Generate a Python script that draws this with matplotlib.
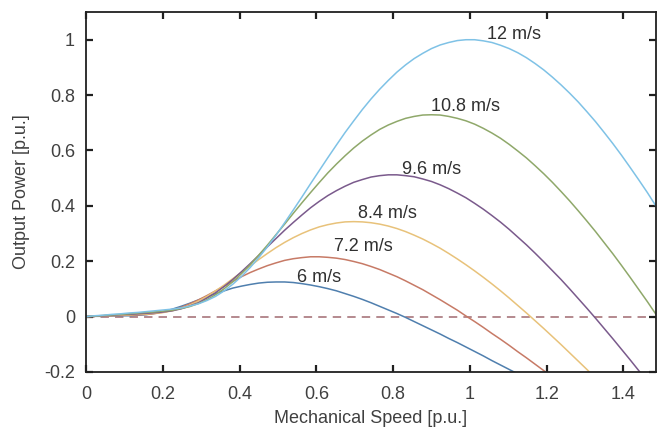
import matplotlib
matplotlib.use("Agg")
import matplotlib.pyplot as plt

# Mechanical speed [p.u.]
speed = [0.0000, 0.0225, 0.0450, 0.0675, 0.0900, 0.1125, 0.1350, 0.1575, 0.1800, 0.2025,
         0.2250, 0.2475, 0.2700, 0.2925, 0.3150, 0.3375, 0.3600, 0.3825, 0.4050, 0.4275,
         0.4500, 0.4725, 0.4950, 0.5175, 0.5400, 0.5625, 0.5850, 0.6075, 0.6300, 0.6525,
         0.6750, 0.6975, 0.7200, 0.7425, 0.7650, 0.7875, 0.8100, 0.8325, 0.8550, 0.8775,
         0.9000, 0.9225, 0.9450, 0.9675, 0.9900, 1.0125, 1.0350, 1.0575, 1.0800, 1.1025,
         1.1250, 1.1475, 1.1700, 1.1925, 1.2150, 1.2375, 1.2600, 1.2825, 1.3050, 1.3275,
         1.3500, 1.3725, 1.3950, 1.4175, 1.4400, 1.4625, 1.4850]

# Output power [p.u.] for each wind speed
p_6_0 = [0.000, 0.001, 0.001, 0.002, 0.003, 0.003, 0.005, 0.007, 0.012, 0.018,
         0.027, 0.037, 0.048, 0.060, 0.072, 0.083, 0.093, 0.103, 0.110, 0.116,
         0.121, 0.124, 0.125, 0.125, 0.123, 0.119, 0.114, 0.108, 0.101, 0.093,
         0.083, 0.073, 0.062, 0.050, 0.037, 0.024, 0.011, -0.003, -0.018, -0.033,
         -0.048, -0.063, -0.079, -0.094, -0.110, -0.126, -0.142, -0.159, -0.175, -0.191,
         -0.207, -0.223, -0.239, -0.255, -0.271, -0.287, -0.303, -0.319, -0.335, -0.350,
         -0.365, -0.381, -0.396, -0.411, -0.426, -0.440, -0.455]
p_7_2 = [0.000, 0.001, 0.002, 0.003, 0.004, 0.005, 0.006, 0.008, 0.011, 0.016,
         0.023, 0.033, 0.046, 0.060, 0.076, 0.093, 0.110, 0.127, 0.144, 0.159,
         0.172, 0.184, 0.194, 0.203, 0.209, 0.213, 0.216, 0.216, 0.214, 0.211,
         0.206, 0.199, 0.191, 0.181, 0.170, 0.157, 0.144, 0.129, 0.113, 0.097,
         0.079, 0.061, 0.042, 0.023, 0.002, -0.018, -0.039, -0.061, -0.082, -0.104,
         -0.127, -0.149, -0.172, -0.195, -0.218, -0.241, -0.265, -0.288, -0.311, -0.335,
         -0.358, -0.381, -0.404, -0.427, -0.451, -0.474, -0.497]
p_8_4 = [0.000, 0.001, 0.003, 0.004, 0.005, 0.006, 0.008, 0.009, 0.012, 0.015,
         0.021, 0.030, 0.041, 0.056, 0.073, 0.093, 0.114, 0.137, 0.160, 0.183,
         0.206, 0.228, 0.249, 0.268, 0.285, 0.300, 0.313, 0.324, 0.332, 0.338,
         0.342, 0.343, 0.342, 0.339, 0.334, 0.327, 0.318, 0.307, 0.294, 0.280,
         0.264, 0.247, 0.228, 0.208, 0.187, 0.165, 0.142, 0.118, 0.093, 0.067,
         0.040, 0.013, -0.015, -0.043, -0.072, -0.101, -0.131, -0.161, -0.191, -0.222,
         -0.253, -0.284, -0.315, -0.347, -0.378, -0.410, -0.441]
p_9_6 = [0.000, 0.002, 0.003, 0.005, 0.007, 0.008, 0.010, 0.012, 0.014, 0.017,
         0.021, 0.028, 0.038, 0.050, 0.067, 0.086, 0.109, 0.134, 0.162, 0.191,
         0.221, 0.252, 0.282, 0.312, 0.340, 0.367, 0.393, 0.416, 0.437, 0.455,
         0.471, 0.485, 0.495, 0.504, 0.509, 0.512, 0.512, 0.509, 0.505, 0.497,
         0.488, 0.476, 0.462, 0.446, 0.429, 0.409, 0.388, 0.365, 0.341, 0.315,
         0.287, 0.259, 0.229, 0.198, 0.166, 0.134, 0.100, 0.065, 0.030, -0.006,
         -0.043, -0.080, -0.118, -0.156, -0.195, -0.235, -0.274]
p_10_8 = [0.000, 0.002, 0.004, 0.006, 0.008, 0.010, 0.013, 0.015, 0.017, 0.020,
          0.023, 0.029, 0.036, 0.047, 0.061, 0.079, 0.101, 0.126, 0.155, 0.187,
          0.222, 0.258, 0.296, 0.334, 0.373, 0.411, 0.448, 0.484, 0.519, 0.551,
          0.581, 0.609, 0.634, 0.656, 0.676, 0.692, 0.705, 0.716, 0.723, 0.728,
          0.729, 0.728, 0.723, 0.716, 0.707, 0.695, 0.680, 0.663, 0.644, 0.622,
          0.598, 0.573, 0.545, 0.516, 0.485, 0.452, 0.418, 0.382, 0.345, 0.307,
          0.267, 0.227, 0.185, 0.142, 0.098, 0.054, 0.008]
p_12_0 = [0.000, 0.003, 0.005, 0.008, 0.010, 0.013, 0.015, 0.018, 0.021, 0.024,
          0.027, 0.031, 0.038, 0.046, 0.058, 0.073, 0.093, 0.117, 0.145, 0.177,
          0.213, 0.252, 0.294, 0.339, 0.385, 0.432, 0.480, 0.527, 0.574, 0.620,
          0.665, 0.707, 0.748, 0.786, 0.821, 0.853, 0.883, 0.909, 0.932, 0.951,
          0.968, 0.981, 0.990, 0.997, 1.000, 1.000, 0.996, 0.990, 0.980, 0.968,
          0.953, 0.935, 0.914, 0.891, 0.865, 0.837, 0.807, 0.775, 0.740, 0.704,
          0.665, 0.625, 0.583, 0.539, 0.494, 0.448, 0.399]

series = [p_6_0, p_7_2, p_8_4, p_9_6, p_10_8, p_12_0]
labels = ["6 m/s", "7.2 m/s", "8.4 m/s", "9.6 m/s", "10.8 m/s", "12 m/s"]
label_pos = [(0.55, 0.14), (0.646, 0.252), (0.709, 0.374),
             (0.822, 0.53), (0.90, 0.76), (1.045, 1.02)]
colors = ["#4f7fae", "#c77a66", "#e8c27a", "#7a5a8c", "#8fa86a", "#7fc2e6"]

xticks = [0, 0.2, 0.4, 0.6, 0.8, 1.0, 1.2, 1.4]
xticklabels = ["0", "0.2", "0.4", "0.6", "0.8", "1", "1.2", "1.4"]
yticks = [-0.2, 0, 0.2, 0.4, 0.6, 0.8, 1.0]
yticklabels = ["-0.2", "0", "0.2", "0.4", "0.6", "0.8", "1"]

plt.rcParams['font.family'] = ['Liberation Sans', 'DejaVu Sans']

fig = plt.figure(figsize=(6.67, 4.30), dpi=100)
ax = fig.add_axes([0.129, 0.135, 0.8545, 0.837])

ax.axhline(0, color="#a06a70", lw=1.1, ls=(0, (5.5, 4)), zorder=1)
for y, c in zip(series, colors):
    ax.plot(speed, y, color=c, lw=1.1, zorder=2)
for lab, (lx, ly) in zip(labels, label_pos):
    ax.text(lx, ly, lab, ha="left", va="center", fontsize=13, color="#303030")

ax.set_xlim(0, 1.485)
ax.set_ylim(-0.2, 1.1)
ax.set_xticks(xticks)
ax.set_xticklabels(xticklabels)
ax.set_yticks(yticks)
ax.set_yticklabels(yticklabels)
ax.tick_params(direction="in", top=True, right=True, length=5, width=1.6,
               colors="#202020", labelcolor="#404040", labelsize=13)
ax.tick_params(axis="x", pad=10)
ax.tick_params(axis="y", pad=8)
for s in ax.spines.values():
    s.set_linewidth(1.3)
    s.set_color("#202020")

ax.set_xlabel("Mechanical Speed [p.u.]", fontsize=13, color="#404040", labelpad=5)
ax.set_ylabel("Output Power [p.u.]", fontsize=13, color="#404040", labelpad=10)

fig.savefig("out.png", dpi=100)
